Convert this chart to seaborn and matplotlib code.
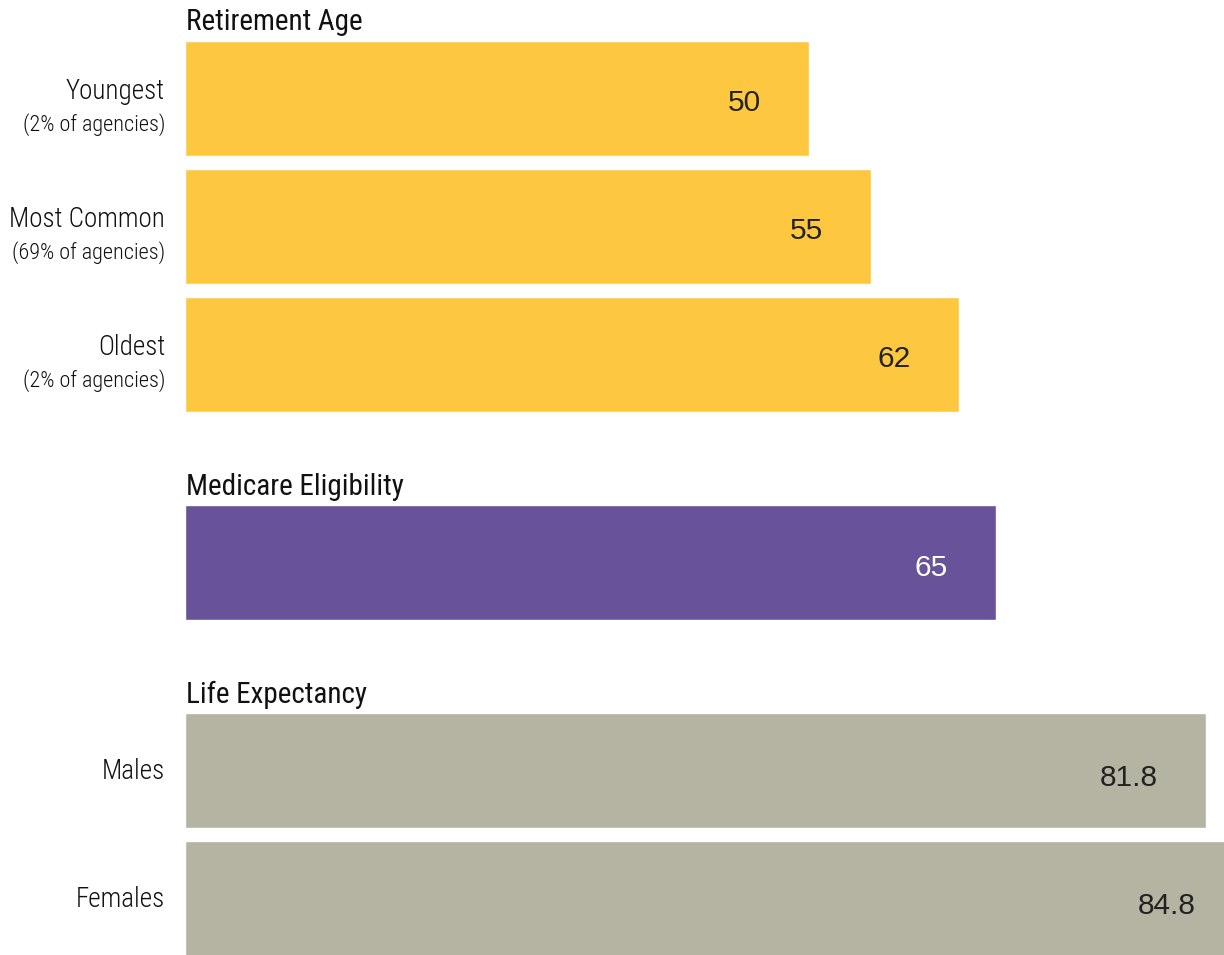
import matplotlib
matplotlib.use("Agg")
import matplotlib.pyplot as plt
from matplotlib import font_manager as fm
import seaborn as sns
import pandas as pd

# --- data -------------------------------------------------------------
retire_labels = ["Youngest", "Most Common", "Oldest"]
retire_notes = ["(2% of agencies)", "(69% of agencies)", "(2% of agencies)"]
retire_ages = [50, 55, 62]

medicare_labels = ["Medicare"]
medicare_ages = [65]

life_labels = ["Males", "Females"]
life_ages = [81.8, 84.8]

section_titles = ["Retirement Age", "Medicare Eligibility", "Life Expectancy"]
section_colors = ["#FDC840", "#68529A", "#B5B3A2"]
value_colors = ["#222222", "#FFFFFF", "#222222"]
value_drop = [4, 5, 7]  # pixels the value text sits below the bar centre

# --- fonts ------------------------------------------------------------
sns.set_theme(style="white")
available = {f.name for f in fm.fontManager.ttflist}
narrow = next((n for n in ["Roboto Condensed", "Archivo Narrow", "PT Sans Narrow",
                           "Barlow Semi Condensed", "Liberation Sans"] if n in available))
plt.rcParams["font.family"] = ["Liberation Sans", "DejaVu Sans"]

W, H = 1224, 955
fig = plt.figure(figsize=(W / 100, H / 100), dpi=100)

x0_px = 185
px_per_year = 12.48
xmax = (W - x0_px) / px_per_year
pitch = 128  # vertical pixels per bar slot
ink = "#111111"
lab_kw = dict(family=narrow, weight="light", color=ink)


def make_axes(top_px, n):
    h = n * pitch
    return fig.add_axes([x0_px / W, 1 - (top_px + h) / H, (W - x0_px) / W, h / H])


sections = [
    (34.5, retire_labels, retire_ages, retire_notes),
    (498.5, medicare_labels, medicare_ages, None),
    (706.5, life_labels, life_ages, None),
]

for k, (top, labels, ages, notes) in enumerate(sections):
    ax = make_axes(top, len(labels))
    df = pd.DataFrame({"label": labels, "age": ages})
    sns.barplot(data=df, x="age", y="label", orient="h", color=section_colors[k],
                saturation=1, width=0.9, ax=ax)
    ax.set_xlim(0, xmax)
    ax.set_ylim(len(labels) - 0.5, -0.5)
    ax.set_xlabel("")
    ax.set_ylabel("")
    ax.set_xticks([])
    ax.set_yticks([])
    for s in ax.spines.values():
        s.set_visible(False)

    # section heading above the first bar
    ax.annotate(section_titles[k], xy=(0, 1), xycoords="axes fraction",
                xytext=(1, 4), textcoords="offset pixels", ha="left", va="baseline",
                fontsize=21, family=narrow, color=ink)

    for i, (lab, age) in enumerate(zip(labels, ages)):
        # value inside the bar, near its end
        ax.annotate(f"{age:g}", xy=(age - 3.85, i), xycoords="data",
                    xytext=(0, -value_drop[k]), textcoords="offset pixels",
                    ha="right", va="center", fontsize=21.5,
                    color=value_colors[k])
        # category labels on the left (Medicare section has none)
        if k == 1:
            continue
        if notes is not None:
            ax.annotate(lab, xy=(0, i), xycoords=("axes fraction", "data"),
                        xytext=(-20, 7), textcoords="offset pixels",
                        ha="right", va="center", fontsize=19.5, **lab_kw)
            ax.annotate(notes[i], xy=(0, i), xycoords=("axes fraction", "data"),
                        xytext=(-20, -26), textcoords="offset pixels",
                        ha="right", va="center", fontsize=16, **lab_kw)
        else:
            ax.annotate(lab, xy=(0, i), xycoords=("axes fraction", "data"),
                        xytext=(-20, -1), textcoords="offset pixels",
                        ha="right", va="center", fontsize=19.5, **lab_kw)

fig.savefig("out.png", dpi=100)
